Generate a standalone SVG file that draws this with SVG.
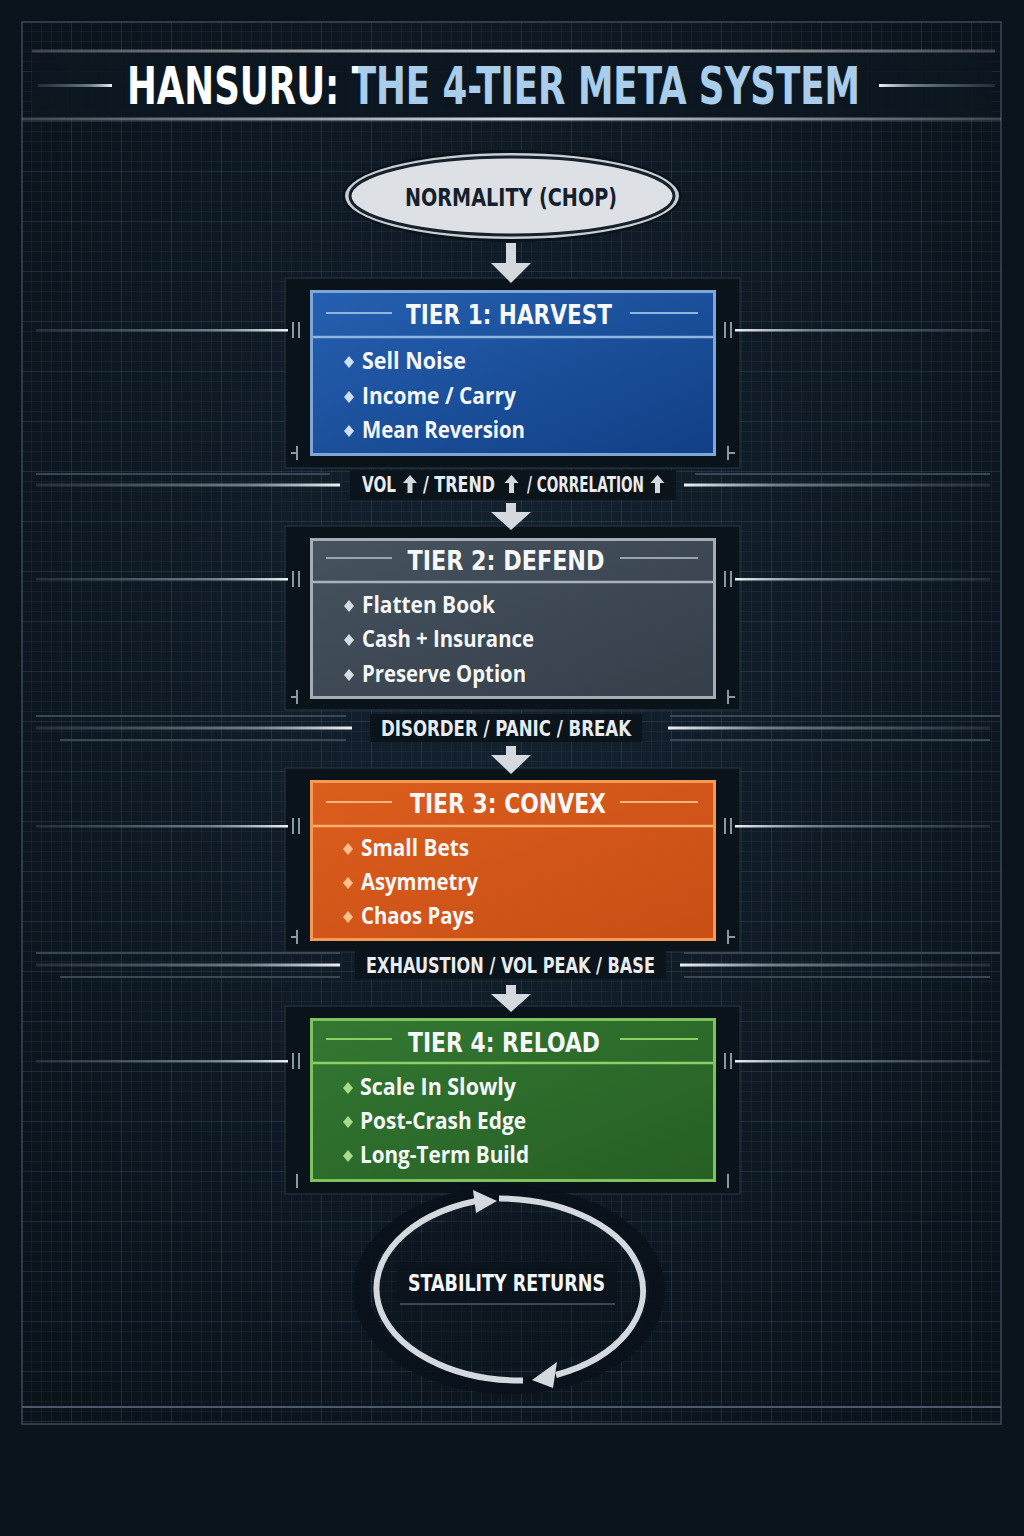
<svg xmlns="http://www.w3.org/2000/svg" width="1024" height="1536" viewBox="0 0 1024 1536">
<defs>
<style>
.cap{font-family:"DejaVu Sans Condensed","DejaVu Sans","Liberation Sans",sans-serif;font-weight:bold;}
.item{font-family:"Open Sans","Noto Sans","Liberation Sans",sans-serif;font-weight:700;font-size:24px;fill:#f4f6f8;}
.ttl{font-size:27px;fill:#f6f8fa;text-anchor:middle;}
.tr{font-size:21px;fill:#e8ecf0;}
.arrow{fill:#d4d9de;}
.panel{fill:#0a121a;stroke:#2a3846;stroke-width:1;}
.tick{stroke:#8a98a6;stroke-width:2;fill:none;}
.sideL{fill:url(#gL);}
.sideR{fill:url(#gR);}
.faint{stroke:#3a4856;stroke-width:2;}
</style>
<pattern id="gmin" width="10" height="10" patternUnits="userSpaceOnUse" x="22" y="22">
<path d="M10 0V10H0" fill="none" stroke="#5a7288" stroke-opacity="0.22" stroke-width="1"/>
</pattern>
<pattern id="gmaj" width="50" height="50" patternUnits="userSpaceOnUse" x="22" y="22">
<path d="M50 0V50H0" fill="none" stroke="#6c8499" stroke-opacity="0.25" stroke-width="1"/>
</pattern>
<linearGradient id="titleFill" gradientUnits="userSpaceOnUse" x1="0" y1="0" x2="1024" y2="0">
<stop offset="0" stop-color="#ffffff"/>
<stop offset="0.3496" stop-color="#ffffff"/>
<stop offset="0.3496" stop-color="#a9cdea"/>
<stop offset="1" stop-color="#a9cdea"/>
</linearGradient>
<linearGradient id="gL" x1="0" x2="1" y1="0" y2="0">
<stop offset="0" stop-color="#6a7a8a" stop-opacity="0.25"/>
<stop offset="0.7" stop-color="#9aa8b6" stop-opacity="0.7"/>
<stop offset="1" stop-color="#eef2f5"/>
</linearGradient>
<linearGradient id="gR" x1="0" x2="1" y1="0" y2="0">
<stop offset="0" stop-color="#eef2f5"/>
<stop offset="0.3" stop-color="#9aa8b6" stop-opacity="0.7"/>
<stop offset="1" stop-color="#6a7a8a" stop-opacity="0.25"/>
</linearGradient>
<linearGradient id="hl" x1="0" x2="1" y1="0" y2="0">
<stop offset="0" stop-color="#ffffff" stop-opacity="0.2"/>
<stop offset="0.5" stop-color="#e8eef4" stop-opacity="0.9"/>
<stop offset="1" stop-color="#ffffff" stop-opacity="0.2"/>
</linearGradient>
<linearGradient id="bg1" x1="0" y1="0" x2="1" y2="1">
<stop offset="0" stop-color="#2560b0"/>
<stop offset="1" stop-color="#123f86"/>
</linearGradient>
<linearGradient id="bg2" x1="0" y1="0" x2="1" y2="1">
<stop offset="0" stop-color="#46525e"/>
<stop offset="1" stop-color="#343f4a"/>
</linearGradient>
<linearGradient id="bg3" x1="0" y1="0" x2="1" y2="1">
<stop offset="0" stop-color="#dc5e1e"/>
<stop offset="1" stop-color="#c84e14"/>
</linearGradient>
<linearGradient id="bg4" x1="0" y1="0" x2="1" y2="1">
<stop offset="0" stop-color="#337832"/>
<stop offset="1" stop-color="#265f24"/>
</linearGradient>
<radialGradient id="vign" cx="0.5" cy="0.45" r="0.7">
<stop offset="0" stop-color="#142230"/>
<stop offset="1" stop-color="#0a121a"/>
</radialGradient>
</defs>

<!-- background -->
<rect width="1024" height="1536" fill="#0b141c"/>
<rect x="22" y="22" width="979" height="1402" fill="url(#vign)"/>
<rect x="22" y="22" width="979" height="1402" fill="url(#gmin)"/>
<rect x="22" y="22" width="979" height="1402" fill="url(#gmaj)"/>
<rect x="22" y="22" width="979" height="1402" fill="none" stroke="#3a4a5a" stroke-width="1.5"/>
<line x1="22" y1="1407" x2="1001" y2="1407" stroke="#4a5a6a" stroke-width="2"/>

<!-- title band -->
<g id="title">
<rect x="32" y="51" width="960" height="68" fill="#0c1620" opacity="0.9"/>
<rect x="32" y="49.5" width="963" height="3" fill="url(#hl)"/>
<rect x="22" y="117.5" width="979" height="3" fill="url(#hl)"/>
<rect x="38" y="84" width="74" height="3" class="sideL"/>
<rect x="879" y="84" width="116" height="3" class="sideR"/>
<g transform="translate(0,104) scale(1,1.22)">
<text class="cap" x="127" y="0" font-size="42" fill="url(#titleFill)" textLength="733" lengthAdjust="spacingAndGlyphs">HANSURU: THE 4-TIER META SYSTEM</text>
</g>
</g>

<!-- tier panels + side decor -->
<g id="decor">
<rect class="panel" x="285" y="278" width="455" height="190"/>
<rect class="panel" x="285" y="526" width="455" height="184"/>
<rect class="panel" x="285" y="768" width="455" height="184"/>
<rect class="panel" x="285" y="1006" width="455" height="188"/>
<!-- side lines -->
<rect class="sideL" x="36" y="329" width="252" height="2.5"/><rect class="sideR" x="735" y="329" width="255" height="2.5"/>
<rect class="sideL" x="36" y="578" width="252" height="2.5"/><rect class="sideR" x="735" y="578" width="255" height="2.5"/>
<rect class="sideL" x="36" y="825" width="252" height="2.5"/><rect class="sideR" x="735" y="825" width="255" height="2.5"/>
<rect class="sideL" x="36" y="1060" width="252" height="2.5"/><rect class="sideR" x="735" y="1060" width="255" height="2.5"/>
<!-- ticks -->
<path class="tick" d="M293 322V338M299 322V338M725 322V338M731 322V338M297 446V460M291 453H297M728 446V460M728 453H735"/>
<path class="tick" d="M293 571V587M299 571V587M725 571V587M731 571V587M297 690V704M291 697H297M728 690V704M728 697H735"/>
<path class="tick" d="M293 818V834M299 818V834M725 818V834M731 818V834M297 930V944M291 937H297M728 930V944M728 937H735"/>
<path class="tick" d="M293 1053V1069M299 1053V1069M725 1053V1069M731 1053V1069M297 1174V1188M728 1174V1188"/>
</g>

<!-- connectors -->
<g id="connectors">
<!-- transition lines -->
<line class="faint" x1="36" y1="474" x2="330" y2="474"/><line class="faint" x1="695" y1="474" x2="990" y2="474"/>
<rect class="sideL" x="36" y="483.5" width="304" height="3"/><rect class="sideR" x="684" y="483.5" width="306" height="3"/>
<line class="faint" x1="36" y1="716" x2="346" y2="716"/><line class="faint" x1="670" y1="716" x2="1000" y2="716"/>
<rect class="sideL" x="36" y="726.5" width="316" height="3"/><rect class="sideR" x="668" y="726.5" width="322" height="3"/>
<line class="faint" x1="60" y1="740" x2="346" y2="740"/><line class="faint" x1="670" y1="740" x2="990" y2="740"/>
<line class="faint" x1="36" y1="953" x2="340" y2="953"/><line class="faint" x1="684" y1="953" x2="1000" y2="953"/>
<rect class="sideL" x="36" y="963.5" width="304" height="3"/><rect class="sideR" x="680" y="963.5" width="310" height="3"/>
<line class="faint" x1="60" y1="977" x2="340" y2="977"/><line class="faint" x1="684" y1="977" x2="990" y2="977"/>
<!-- down arrows -->
<path class="arrow" d="M506 243H516V263H531L511 283L491 263H506Z"/>
<path class="arrow" d="M506 503H516V512H531L511 530L491 512H506Z"/>
<path class="arrow" d="M506 746H516V755H531L511 774L491 755H506Z"/>
<path class="arrow" d="M506 985H516V994H531L511 1012L491 994H506Z"/>
</g>

<!-- transition labels -->
<g id="transitions">
<rect x="350" y="470" width="326" height="30" fill="#0b131b"/>
<text class="cap tr" x="362" y="492" textLength="34" lengthAdjust="spacingAndGlyphs">VOL</text>
<path class="arrow" d="M410 475L417 483H412.5V493H407.5V483H403Z"/>
<text class="cap tr" x="423" y="492" textLength="72" lengthAdjust="spacingAndGlyphs">/ TREND</text>
<path class="arrow" d="M511.5 475L518.5 483H514V493H509V483H504.5Z"/>
<text class="cap tr" x="527" y="492" textLength="117" lengthAdjust="spacingAndGlyphs">/ CORRELATION</text>
<path class="arrow" d="M657.5 475L664.5 483H660V493H655V483H650.5Z"/>
<rect x="370" y="714" width="272" height="28" fill="#0b131b"/>
<text class="cap tr" x="381" y="736" textLength="250" lengthAdjust="spacingAndGlyphs">DISORDER / PANIC / BREAK</text>
<rect x="355" y="951" width="311" height="28" fill="#0b131b"/>
<text class="cap tr" x="366" y="973" textLength="289" lengthAdjust="spacingAndGlyphs">EXHAUSTION / VOL PEAK / BASE</text>
</g>

<!-- start node -->
<g id="normality">
<ellipse cx="512" cy="196" rx="170" ry="46" fill="#0a121a"/>
<ellipse cx="512" cy="196" rx="167" ry="43" fill="#c9ced4"/>
<ellipse cx="512" cy="196" rx="162" ry="39" fill="#dde1e5" stroke="#16212c" stroke-width="3"/>
<text class="cap" x="405" y="206" font-size="25" fill="#14202c" textLength="212" lengthAdjust="spacingAndGlyphs">NORMALITY (CHOP)</text>
</g>

<!-- Tier 1 -->
<g id="tier1">
<rect x="311.5" y="291.5" width="403" height="163" fill="url(#bg1)" stroke="#7ea6d6" stroke-width="3"/>
<line x1="313" y1="337" x2="713" y2="337" stroke="#8fb4e0" stroke-width="2.5"/>
<line x1="326" y1="313" x2="392" y2="313" stroke="#8fb4e0" stroke-width="2"/>
<line x1="630" y1="313" x2="698" y2="313" stroke="#8fb4e0" stroke-width="2"/>
<text class="cap ttl" x="509" y="324" textLength="206" lengthAdjust="spacingAndGlyphs">TIER 1: HARVEST</text>
<g fill="#cfe0f5"><path d="M349 356l5 6-5 6-5-6z"/><path d="M349 391l5 6-5 6-5-6z"/><path d="M349 425l5 6-5 6-5-6z"/></g>
<text class="item" x="362" y="369" textLength="104" lengthAdjust="spacingAndGlyphs">Sell Noise</text>
<text class="item" x="362" y="404" textLength="154" lengthAdjust="spacingAndGlyphs">Income / Carry</text>
<text class="item" x="362" y="438" textLength="163" lengthAdjust="spacingAndGlyphs">Mean Reversion</text>
</g>

<!-- Tier 2 -->
<g id="tier2">
<rect x="311.5" y="539.5" width="403" height="158" fill="url(#bg2)" stroke="#a4adb6" stroke-width="3"/>
<line x1="313" y1="582" x2="713" y2="582" stroke="#aab3bc" stroke-width="2.5"/>
<line x1="326" y1="558" x2="392" y2="558" stroke="#9aa4ae" stroke-width="2"/>
<line x1="620" y1="558" x2="698" y2="558" stroke="#9aa4ae" stroke-width="2"/>
<text class="cap ttl" x="506" y="570" textLength="197" lengthAdjust="spacingAndGlyphs">TIER 2: DEFEND</text>
<g fill="#d8dde2"><path d="M349 600l5 6-5 6-5-6z"/><path d="M349 634l5 6-5 6-5-6z"/><path d="M349 669l5 6-5 6-5-6z"/></g>
<text class="item" x="362" y="613" textLength="133" lengthAdjust="spacingAndGlyphs">Flatten Book</text>
<text class="item" x="362" y="647" textLength="172" lengthAdjust="spacingAndGlyphs">Cash + Insurance</text>
<text class="item" x="362" y="682" textLength="164" lengthAdjust="spacingAndGlyphs">Preserve Option</text>
</g>

<!-- Tier 3 -->
<g id="tier3">
<rect x="311.5" y="781.5" width="403" height="158" fill="url(#bg3)" stroke="#f39a55" stroke-width="3"/>
<line x1="313" y1="826" x2="713" y2="826" stroke="#f7b070" stroke-width="2.5"/>
<line x1="326" y1="802" x2="392" y2="802" stroke="#f5b27a" stroke-width="2"/>
<line x1="620" y1="802" x2="698" y2="802" stroke="#f5b27a" stroke-width="2"/>
<text class="cap ttl" x="508" y="813" textLength="196" lengthAdjust="spacingAndGlyphs">TIER 3: CONVEX</text>
<g fill="#ffc18a"><path d="M348 843l5 6-5 6-5-6z"/><path d="M348 877l5 6-5 6-5-6z"/><path d="M348 911l5 6-5 6-5-6z"/></g>
<text class="item" x="361" y="856" textLength="108" lengthAdjust="spacingAndGlyphs">Small Bets</text>
<text class="item" x="361" y="890" textLength="117" lengthAdjust="spacingAndGlyphs">Asymmetry</text>
<text class="item" x="361" y="924" textLength="113" lengthAdjust="spacingAndGlyphs">Chaos Pays</text>
</g>

<!-- Tier 4 -->
<g id="tier4">
<rect x="311.5" y="1019.5" width="403" height="161" fill="url(#bg4)" stroke="#7dc25c" stroke-width="3"/>
<line x1="313" y1="1063" x2="713" y2="1063" stroke="#8ccf68" stroke-width="2.5"/>
<line x1="326" y1="1039" x2="392" y2="1039" stroke="#8ccf68" stroke-width="2"/>
<line x1="620" y1="1039" x2="698" y2="1039" stroke="#8ccf68" stroke-width="2"/>
<text class="cap ttl" x="504" y="1052" textLength="192" lengthAdjust="spacingAndGlyphs">TIER 4: RELOAD</text>
<g fill="#a8dc88"><path d="M348 1082l5 6-5 6-5-6z"/><path d="M348 1116l5 6-5 6-5-6z"/><path d="M348 1150l5 6-5 6-5-6z"/></g>
<text class="item" x="360" y="1095" textLength="156" lengthAdjust="spacingAndGlyphs">Scale In Slowly</text>
<text class="item" x="360" y="1129" textLength="166" lengthAdjust="spacingAndGlyphs">Post-Crash Edge</text>
<text class="item" x="360" y="1163" textLength="169" lengthAdjust="spacingAndGlyphs">Long-Term Build</text>
</g>

<!-- Cycle -->
<g id="stability">
<ellipse cx="509" cy="1290" rx="148" ry="96" fill="none" stroke="#09111a" stroke-width="16" stroke-opacity="0.9"/>
<ellipse cx="509" cy="1290" rx="130" ry="78" fill="#0c151e" fill-opacity="0.35"/>
<rect x="397" y="1262" width="220" height="42" fill="#0b131b" opacity="0.8"/>
<line x1="400" y1="1304" x2="615" y2="1304" stroke="#4a5a6a" stroke-width="1.5"/>
<path d="M523 1380.5A144 92 0 0 1 476 1201" fill="none" stroke="#d4d9de" stroke-width="6"/>
<path d="M497 1201L473 1190L476 1213Z" fill="#d4d9de"/>
<path d="M499 1198.5A144 92 0 0 1 556 1375" fill="none" stroke="#d4d9de" stroke-width="6"/>
<path d="M532 1380L557 1362L553 1388Z" fill="#d4d9de"/>
<text class="cap" x="408" y="1291" font-size="23" fill="#f4f6f8" textLength="197" lengthAdjust="spacingAndGlyphs">STABILITY RETURNS</text>
</g>
</svg>
